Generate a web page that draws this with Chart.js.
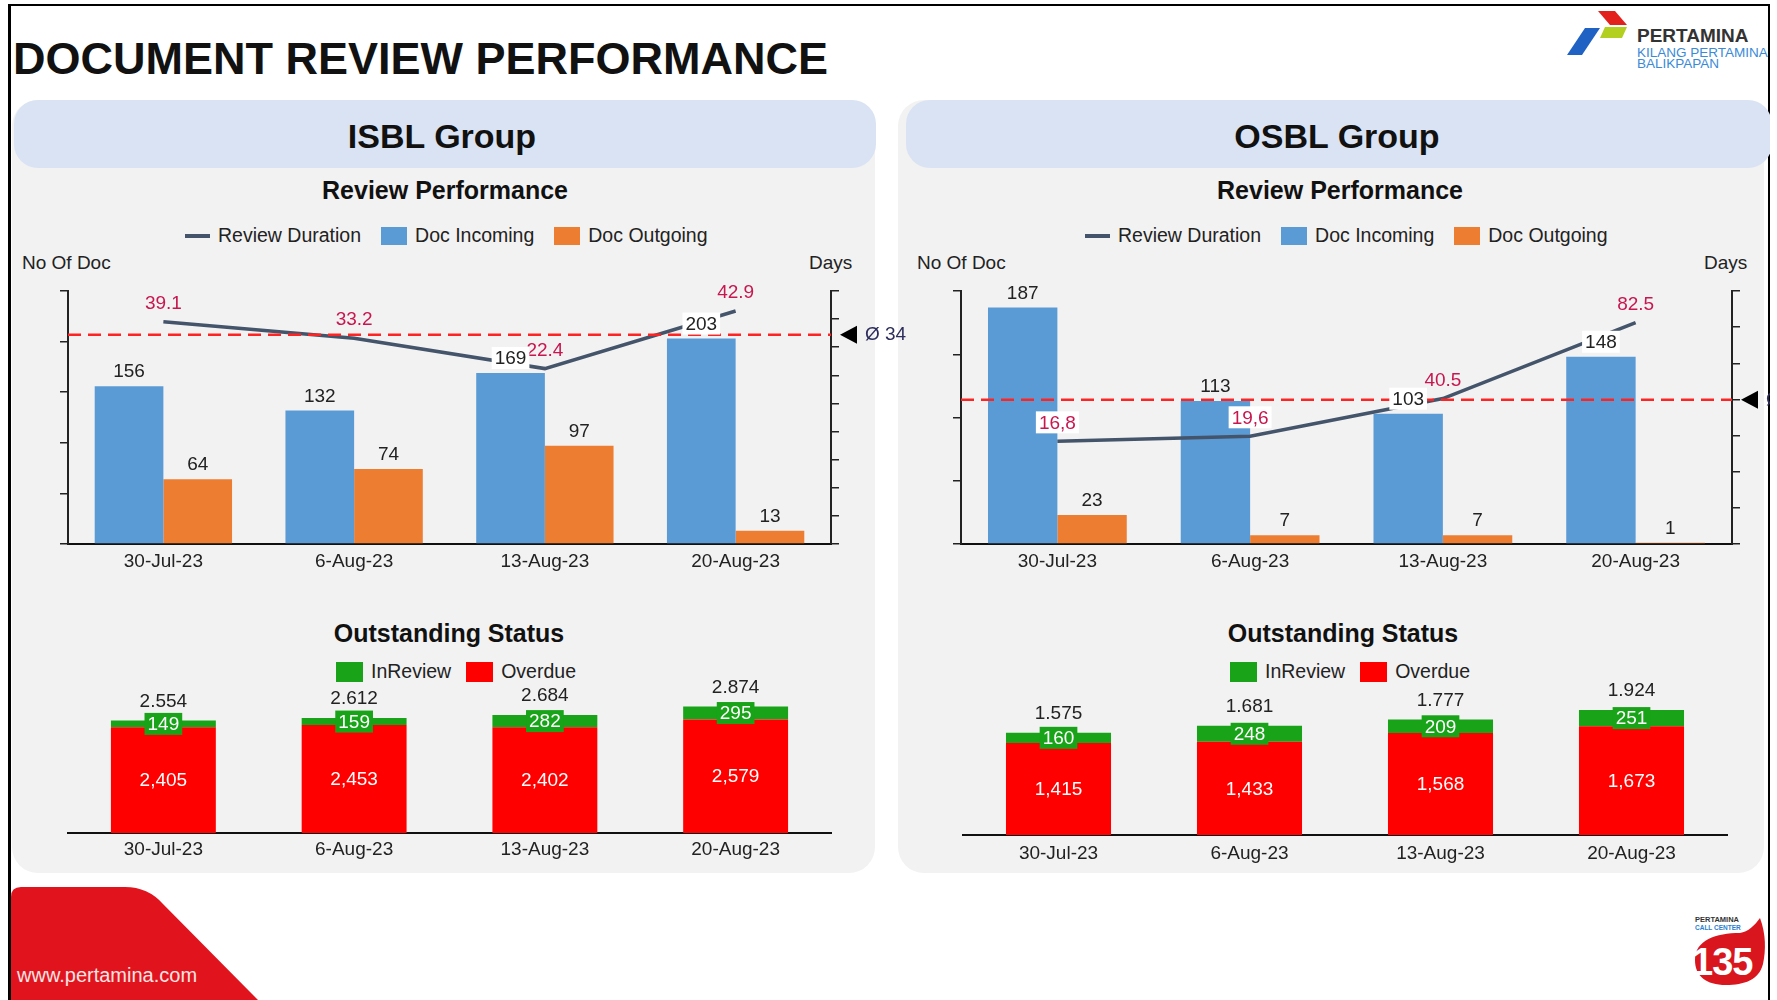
<!DOCTYPE html>
<html>
<head>
<meta charset="utf-8">
<title>Document Review Performance</title>
<script src="https://cdn.jsdelivr.net/npm/chart.js@4.4.0/dist/chart.umd.min.js"></script>
<style>
  html, body { margin: 0; padding: 0; background: #fff; }
  body { width: 1777px; height: 1000px; position: relative; overflow: hidden;
         font-family: 'Liberation Sans', Arial, sans-serif; color: #1a1a1a; line-height: 1; }
  #slide { position: absolute; left: 0; top: 0; width: 1770px; height: 1000px; overflow: hidden; }
  .abs { position: absolute; white-space: nowrap; }
  .c { position: absolute; white-space: nowrap; transform: translate(-50%, -50%); }
  .panel { position: absolute; top: 100px; height: 773px; background: #f2f2f2; border-radius: 26px; }
  .band { position: absolute; top: 100px; height: 68px; background: #dae3f3; border-radius: 24px; }
  .grp { font-weight: bold; font-size: 34px; color: #111; }
  .sub { font-weight: bold; font-size: 25px; color: #111; }
  .axt { font-size: 19px; color: #222; }
  .legend { position: absolute; display: flex; align-items: center; font-size: 19.5px; color: #222; height: 22px; white-space: nowrap; }
  .legend .it { display: flex; align-items: center; margin-right: 20px; }
  .legend .sw { display: inline-block; width: 26px; height: 18px; margin-right: 8px; }
  .legend .sq { display: inline-block; width: 27px; height: 20px; margin-right: 8px; }
  .legend .ln { display: inline-block; width: 25px; height: 4px; background: #44546a; margin-right: 8px; }
  canvas { position: absolute; }
</style>
</head>
<body>
<div id="slide">
  <!-- slide frame -->
  <div class="abs" style="left:8px;top:4px;width:3px;height:996px;background:#000"></div>
  <div class="abs" style="left:8px;top:4px;width:1763px;height:2px;background:#000"></div>
  <div class="abs" style="left:1768px;top:4px;width:2px;height:996px;background:#000"></div>

  <div class="abs" style="left:13px;top:36px;font-size:45px;font-weight:bold;color:#111">DOCUMENT REVIEW PERFORMANCE</div>

  <!-- pertamina logo -->
  <svg class="abs" style="left:1560px;top:5px" width="215" height="70">
    <polygon points="38,6 55,6 67,20 50,20" fill="#e2211c"/>
    <polygon points="45,22 67,22 62,33 40,33" fill="#b3cf1f"/>
    <polygon points="25,23 40,23 22,50 7,50" fill="#1f62c3"/>
    <text x="77" y="37" font-size="19" font-weight="bold" fill="#333" font-family="Liberation Sans, Arial">PERTAMINA</text>
    <text x="77" y="52" font-size="13.5" fill="#3a8ad8" font-family="Liberation Sans, Arial">KILANG PERTAMINA</text>
    <text x="77" y="63" font-size="13.5" fill="#3a8ad8" font-family="Liberation Sans, Arial">BALIKPAPAN</text>
  </svg>

  <!-- panels -->
  <div class="panel" style="left:12px;width:863px"></div>
  <div class="band" style="left:14px;width:862px"></div>
  <div class="panel" style="left:898px;width:866px"></div>
  <div class="band" style="left:906px;width:866px"></div>

  <div class="c grp" style="left:442px;top:136px">ISBL Group</div>
  <div class="c grp" style="left:1337px;top:136px">OSBL Group</div>
  <div class="c sub" style="left:445px;top:190px">Review Performance</div>
  <div class="c sub" style="left:1340px;top:190px">Review Performance</div>

  <div class="legend" style="left:185px;top:225px">
    <span class="it"><span class="ln"></span>Review Duration</span>
    <span class="it"><span class="sw" style="background:#5b9bd5"></span>Doc Incoming</span>
    <span class="it"><span class="sw" style="background:#ed7d31"></span>Doc Outgoing</span>
  </div>
  <div class="legend" style="left:1085px;top:225px">
    <span class="it"><span class="ln"></span>Review Duration</span>
    <span class="it"><span class="sw" style="background:#5b9bd5"></span>Doc Incoming</span>
    <span class="it"><span class="sw" style="background:#ed7d31"></span>Doc Outgoing</span>
  </div>

  <div class="abs axt" style="left:22px;top:253px">No Of Doc</div>
  <div class="abs axt" style="left:809px;top:253px">Days</div>
  <div class="abs axt" style="left:917px;top:253px">No Of Doc</div>
  <div class="abs axt" style="left:1704px;top:253px">Days</div>

  <div class="c sub" style="left:449px;top:633px">Outstanding Status</div>
  <div class="c sub" style="left:1343px;top:633px">Outstanding Status</div>
  <div class="legend" style="left:336px;top:661px">
    <span class="it" style="margin-right:15px"><span class="sq" style="background:#18a318"></span>InReview</span>
    <span class="it"><span class="sq" style="background:#ff0000"></span>Overdue</span>
  </div>
  <div class="legend" style="left:1230px;top:661px">
    <span class="it" style="margin-right:15px"><span class="sq" style="background:#18a318"></span>InReview</span>
    <span class="it"><span class="sq" style="background:#ff0000"></span>Overdue</span>
  </div>

  <canvas id="isblCombo" width="900" height="340" style="left:10px;top:240px"></canvas>
  <canvas id="osblCombo" width="877" height="340" style="left:900px;top:240px"></canvas>
  <canvas id="isblStatus" width="870" height="230" style="left:10px;top:640px"></canvas>
  <canvas id="osblStatus" width="870" height="232" style="left:900px;top:640px"></canvas>

  <!-- footer -->
  <svg class="abs" style="left:0;top:880px" width="270" height="120">
    <path d="M11,120 V17 Q11,7 21,7 H125 Q148,7 163,24 L258,120 Z" fill="#e1141e"/>
  </svg>
  <div class="abs" style="left:17px;top:965px;font-size:20px;color:#fbe3e3">www.pertamina.com</div>
  <svg class="abs" style="left:1688px;top:912px" width="82" height="80">
    <text x="7" y="10" font-size="7.5" font-weight="bold" fill="#333" font-family="Liberation Sans, Arial">PERTAMINA</text>
    <text x="7" y="18" font-size="6.5" font-weight="bold" fill="#2a7fd0" font-family="Liberation Sans, Arial">CALL CENTER</text>
    <path d="M7,48 C7,28 28,21 52,21 C60,20 67,13 72,6 C78,22 78,38 75,52 C71,68 56,73 38,73 C18,73 7,64 7,48 Z" fill="#d9161d"/>
    <text x="4" y="63" font-size="38" font-weight="bold" fill="#fff" letter-spacing="-1" font-family="Liberation Sans, Arial">135</text>
  </svg>
</div>

<script>
const FONT = "'Liberation Sans', Arial, sans-serif";

// --- data ---
const weeks = ['30-Jul-23', '6-Aug-23', '13-Aug-23', '20-Aug-23'];

const isblIncoming = [156, 132, 169, 203];
const isblOutgoing = [64, 74, 97, 13];
const isblDuration = [39.1, 33.2, 22.4, 42.9];

const osblIncoming = [187, 113, 103, 148];
const osblOutgoing = [23, 7, 7, 1];
const osblDuration = [16.8, 19.6, 40.5, 82.5];

const isblInReview = [149, 159, 282, 295];
const isblOverdue = [2405, 2453, 2402, 2579];
const osblInReview = [160, 248, 209, 251];
const osblOverdue = [1415, 1433, 1568, 1673];

Chart.defaults.font.family = FONT;
Chart.defaults.font.size = 19;
Chart.defaults.color = '#222';

const mean = arr => arr.reduce((a, b) => a + b, 0) / arr.length;

// labels drawn on top of bars / points
const valueLabels = {
  id: 'valueLabels',
  afterDatasetsDraw(chart) {
    const ctx = chart.ctx;
    chart.data.datasets.forEach((ds, di) => {
      const lb = ds.lbl;
      if (!lb) return;
      chart.getDatasetMeta(di).data.forEach((el, i) => {
        const v = ds.data[i];
        const txt = lb.fmt ? lb.fmt(v, i) : String(v);
        const y = lb.mid ? (el.y + el.base) / 2 : el.y - lb.dy;
        ctx.save();
        ctx.font = '19px ' + FONT;
        const w = ctx.measureText(txt).width;
        const bg = typeof lb.bg === 'string' ? lb.bg : (lb.bg && lb.bg[i]);
        if (bg) {
          ctx.fillStyle = bg;
          ctx.fillRect(el.x - w / 2 - 3, y - 11, w + 6, 22);
        }
        ctx.fillStyle = lb.color;
        ctx.textAlign = 'center';
        ctx.textBaseline = 'middle';
        ctx.fillText(txt, el.x, y + 1);
        ctx.restore();
      });
    });
  }
};

// stacked totals, written with a dot as thousands separator like on the slide
const totalLabels = {
  id: 'totalLabels',
  afterDatasetsDraw(chart) {
    const ctx = chart.ctx;
    const sets = chart.data.datasets;
    const topMeta = chart.getDatasetMeta(sets.length - 1);
    topMeta.data.forEach((el, i) => {
      const sum = sets.reduce((s, d) => s + d.data[i], 0);
      const txt = String(sum).replace(/\B(?=(\d{3})+(?!\d))/g, '.');
      ctx.save();
      ctx.font = '19px ' + FONT;
      ctx.fillStyle = '#222';
      ctx.textAlign = 'center';
      ctx.textBaseline = 'middle';
      ctx.fillText(txt, el.x, el.y - 19);
      ctx.restore();
    });
  }
};

// dashed average line on the days axis, with the arrow marker
const avgLine = {
  id: 'avgLine',
  afterDatasetsDraw(chart, args, opts) {
    const { ctx, chartArea: a } = chart;
    const y = chart.scales.y1.getPixelForValue(opts.value);
    ctx.save();
    ctx.strokeStyle = '#ff2424';
    ctx.lineWidth = 2.5;
    ctx.setLineDash([13, 7]);
    ctx.beginPath();
    ctx.moveTo(a.left, y);
    ctx.lineTo(a.right, y);
    ctx.stroke();
    ctx.setLineDash([]);
    ctx.fillStyle = '#000';
    ctx.beginPath();
    ctx.moveTo(a.right + 9, y);
    ctx.lineTo(a.right + 26, y - 9);
    ctx.lineTo(a.right + 26, y + 9);
    ctx.closePath();
    ctx.fill();
    ctx.fillStyle = '#2d2d5c';
    ctx.font = '19px ' + FONT;
    ctx.textAlign = 'left';
    ctx.textBaseline = 'middle';
    ctx.fillText('Ø ' + Math.round(opts.value), a.right + 34, y);
    ctx.restore();
  }
};

function sideAxis(pos, min, max, step, width) {
  return {
    position: pos, min: min, max: max,
    ticks: { display: false, stepSize: step },
    grid: { drawOnChartArea: false, tickLength: 8, color: '#222', lineWidth: 1.5 },
    border: { color: '#222', width: 2 },
    afterFit: s => { s.width = width; }
  };
}

function comboChart(id, inc, out, dur, left, right, sz, lbl) {
  return new Chart(document.getElementById(id), {
    type: 'bar',
    data: {
      labels: weeks,
      datasets: [
        { type: 'line', label: 'Review Duration', data: dur, yAxisID: 'y1', order: 0,
          borderColor: '#44546a', borderWidth: 3.5, pointRadius: 0, tension: 0,
          lbl: { color: '#c8164f', dy: 19, bg: lbl.durBg, fmt: lbl.durFmt } },
        { label: 'Doc Incoming', data: inc, yAxisID: 'y', order: 1, backgroundColor: '#5b9bd5',
          categoryPercentage: 0.72, barPercentage: 1,
          lbl: { color: '#222', dy: 15, bg: lbl.incBg } },
        { label: 'Doc Outgoing', data: out, yAxisID: 'y', order: 1, backgroundColor: '#ed7d31',
          categoryPercentage: 0.72, barPercentage: 1,
          lbl: { color: '#222', dy: 15 } }
      ]
    },
    options: {
      responsive: false,
      animation: false,
      layout: { padding: { top: sz.top, left: 0, right: 0, bottom: 0 } },
      plugins: {
        legend: { display: false },
        tooltip: { enabled: false },
        avgLine: { value: mean(dur) }
      },
      scales: {
        x: { grid: { display: false }, border: { color: '#111', width: 2 },
             ticks: { padding: -2, color: '#222' }, afterFit: s => { s.height = sz.bottom; } },
        y: sideAxis('left', left[0], left[1], left[2], sz.left),
        y1: sideAxis('right', right[0], right[1], right[2], sz.right)
      }
    },
    plugins: [avgLine, valueLabels]
  });
}

function statusChart(id, rev, ovd, yMax, sz) {
  return new Chart(document.getElementById(id), {
    type: 'bar',
    data: {
      labels: weeks,
      datasets: [
        { label: 'Overdue', data: ovd, backgroundColor: '#ff0000',
          categoryPercentage: 0.55, barPercentage: 1,
          lbl: { mid: true, color: '#fff', fmt: v => v.toLocaleString('en-US') } },
        { label: 'InReview', data: rev, backgroundColor: '#18a318',
          categoryPercentage: 0.55, barPercentage: 1,
          lbl: { mid: true, color: '#fff', bg: '#18a318' } }
      ]
    },
    options: {
      responsive: false,
      animation: false,
      layout: { padding: { top: sz.top, left: sz.left, right: sz.right, bottom: 0 } },
      plugins: { legend: { display: false }, tooltip: { enabled: false } },
      scales: {
        x: { stacked: true, grid: { display: false }, border: { color: '#111', width: 2 },
             ticks: { padding: sz.pad, color: '#222' }, afterFit: s => { s.height = sz.bottom; } },
        y: { stacked: true, display: false, min: 0, max: yMax }
      }
    },
    plugins: [valueLabels, totalLabels]
  });
}

comboChart('isblCombo', isblIncoming, isblOutgoing, isblDuration,
  [0, 250, 50], [-40, 50, 10],
  { top: 51, bottom: 36, left: 58, right: 79 },
  { incBg: [null, null, '#fff', '#fff'] });

comboChart('osblCombo', osblIncoming, osblOutgoing, osblDuration,
  [0, 200, 50], [-40, 100, 20],
  { top: 51, bottom: 36, left: 61, right: 45 },
  { incBg: [null, null, '#fff', '#fff'], durBg: ['#fff', '#fff', null, null],
    durFmt: (v, i) => i < 2 ? v.toFixed(1).replace('.', ',') : v.toFixed(1) });

statusChart('isblStatus', isblInReview, isblOverdue, 4000,
  { top: 17, bottom: 37, left: 58, right: 49, pad: -3 });

statusChart('osblStatus', osblInReview, osblOverdue, 2500,
  { top: 32.5, bottom: 37, left: 63, right: 43, pad: -1 });
</script>
</body>
</html>
